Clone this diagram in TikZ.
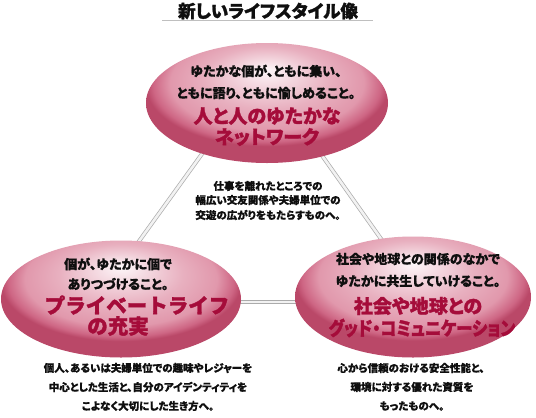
\documentclass[tikz,border=0pt]{standalone}
\usepackage{fontspec}
\setmainfont{Noto Sans CJK JP}[RawFeature=+palt, BoldFeatures={FakeBold=0.6}]
\newfontfamily\heavy{Noto Sans CJK JP}[RawFeature=+palt, BoldFeatures={FakeBold=1.6}]
\newfontfamily\heavyfw{Noto Sans CJK JP}[BoldFeatures={FakeBold=1.6}]
\usetikzlibrary{shapes.geometric}
\definecolor{pkhi}{RGB}{253,247,249}
\definecolor{pkmid}{RGB}{225,152,172}
\definecolor{pkedge}{RGB}{206,102,132}
\definecolor{pkdark}{RGB}{186,72,104}
\definecolor{redtxt}{RGB}{165,12,58}
\definecolor{blacktxt}{RGB}{15,15,15}
\pgfdeclareradialshading{pinkball}{\pgfpoint{0bp}{14bp}}{%
  color(0bp)=(pkhi); color(5bp)=(pkhi!70!pkmid); color(13bp)=(pkhi!25!pkmid); color(20bp)=(pkmid);
  color(23.5bp)=(pkedge); color(25bp)=(pkdark); color(50bp)=(pkdark)}
\tikzset{
  pinkell/.style={ellipse, shading=pinkball, inner sep=0pt},
  blktx/.style={inner sep=0pt, font=\bfseries\fontsize{13}{14}\selectfont, text=blacktxt},
  redtx/.style={inner sep=0pt, font=\heavy\bfseries\fontsize{19}{22}\selectfont, text=redtxt},
  redfwtx/.style={inner sep=0pt, font=\heavyfw\bfseries\fontsize{20.5}{22}\selectfont, text=redtxt},
  captx/.style={inner sep=0pt, font=\bfseries\fontsize{10.5}{12}\selectfont, text=blacktxt},
  tube/.style={draw=black!33, line width=0.7pt, double=black!5, double distance=2.6pt}
}
\begin{document}
\begin{tikzpicture}[x=1pt,y=-1pt]
\useasboundingbox[fill=white] (0,0) rectangle (536,418);
% title
\node[inner sep=0pt, font=\heavy\bfseries\fontsize{17.5}{18}\selectfont, text=blacktxt] (title) at (268,11) {新しいライフスタイル像};
\coordinate (ulL) at (162,20.5);
\coordinate (ulR) at (373,20.5);
\draw[black!25, line width=0.6pt] (ulL) -- (ulR);
% connector end points
\coordinate (c1a) at (212,140);
\coordinate (c1b) at (124,262);
\coordinate (c2a) at (311,140);
\coordinate (c2b) at (396,260);
\coordinate (c3a) at (225,302);
\coordinate (c3b) at (310,302);
\draw[tube] (c1a) -- (c1b);
\draw[tube] (c2a) -- (c2b);
\draw[tube] (c3a) -- (c3b);
% ellipses
\node[pinkell, minimum width=242pt, minimum height=120pt] (top) at (267,103) {};
\node[pinkell, minimum width=240pt, minimum height=117pt] (left) at (121,299) {};
\node[pinkell, minimum width=236pt, minimum height=121pt] (right) at (413,297) {};
% texts in top ellipse
\node[blktx] (t1) at (266,71) {ゆたかな個が、ともに集い、};
\node[blktx] (t2) at (266,93) {ともに語り、ともに愉しめること。};
\node[redtx] (t3) at (267,116) {人と人のゆたかな};
\node[redtx] (t4) at (267,137) {ネットワーク};
% texts in left ellipse
\node[blktx] (l1) at (118,264) {個が、ゆたかに個で};
\node[blktx] (l2) at (118,284) {ありつづけること。};
\node[redfwtx] (l3) at (137,305) {プライベートライフ};
\node[redfwtx] (l4) at (118,326) {の充実};
% texts in right ellipse
\node[blktx] (r1) at (418,259) {社会や地球との関係のなかで};
\node[blktx] (r2) at (418,281) {ゆたかに共生していけること。};
\node[redtx] (r3) at (418,306) {社会や地球との};
\node[redtx] (r4) at (422,328) {\scalebox{0.86}[1]{グッド・コミュニケーション}};
% middle caption
\node[captx] (m1) at (268,186) {仕事を離れたところでの};
\node[captx] (m2) at (268,200) {幅広い交友関係や夫婦単位での};
\node[captx] (m3) at (268,215) {交遊の広がりをもたらすものへ。};
% left caption
\node[captx] (lc1) at (148,368) {個人、あるいは夫婦単位での趣味やレジャーを};
\node[captx] (lc2) at (148,387) {中心とした生活と、自分のアイデンティティを};
\node[captx] (lc3) at (148,406) {こよなく大切にした生き方へ。};
% right caption
\node[captx] (rc1) at (411,368) {心から信頼のおける安全性能と、};
\node[captx] (rc2) at (412,387) {環境に対する優れた資質を};
\node[captx] (rc3) at (412,406) {もったものへ。};
\end{tikzpicture}
\end{document}
